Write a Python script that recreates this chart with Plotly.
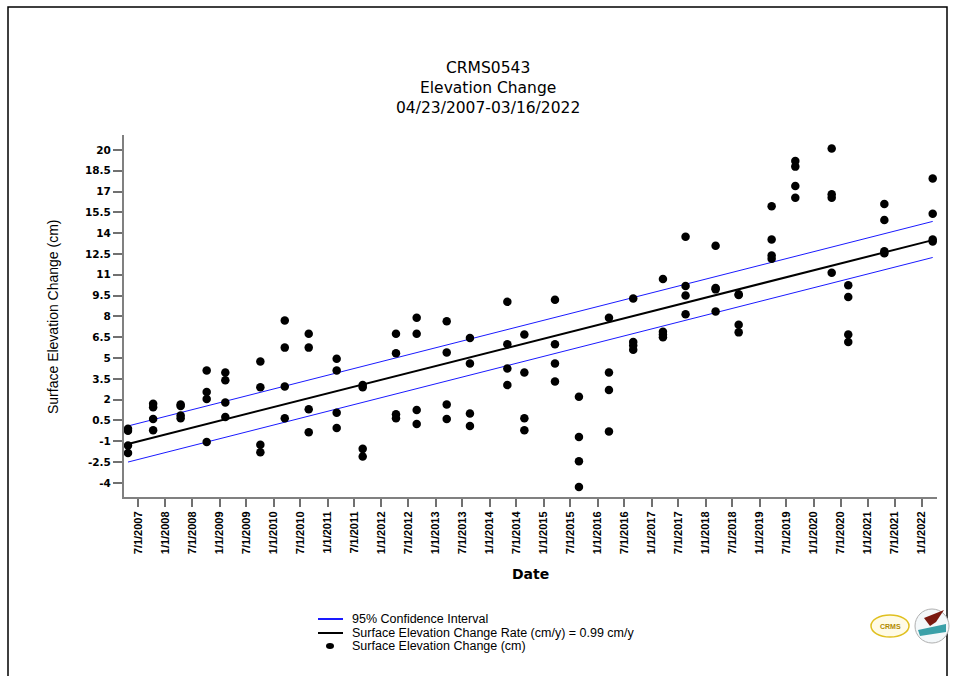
import plotly.graph_objects as go

# ---------------- data ----------------
survey_dates = [
    "2007-04-23", "2007-10-10", "2008-04-13", "2008-10-06", "2009-02-09",
    "2009-10-04", "2010-03-18", "2010-08-27", "2011-03-04", "2011-08-27",
    "2012-04-08", "2012-08-26", "2013-03-17", "2013-08-21", "2014-05-01",
    "2014-08-24", "2015-03-19", "2015-08-28", "2016-03-18", "2016-08-29",
    "2017-03-18", "2017-08-18", "2018-03-09", "2018-08-12", "2019-03-23",
    "2019-08-30", "2020-05-02", "2020-08-22", "2021-04-23", "2022-03-16",
]
pin_1 = [-0.1, 1.7, 1.65, 4.1, 3.95, 4.75, 7.7, 6.75, 4.95, 3.05,
         6.75, 7.9, 7.65, 6.45, 9.05, 6.7, 9.2, 2.2, 7.9, 9.3,
         10.7, 13.75, 13.1, 9.6, 15.95, 19.2, 20.1, 10.25, 16.1, 17.95]
pin_2 = [-0.25, 1.45, 1.55, 2.55, 3.4, 2.9, 5.75, 5.75, 4.1, 2.9,
         5.35, 6.75, 5.4, 4.6, 6.0, 3.95, 6.0, -0.7, 3.95, 6.15,
         6.9, 10.2, 10.05, 9.55, 13.55, 18.8, 16.8, 9.4, 14.95, 15.4]
pin_3 = [-1.3, 0.6, 0.85, 2.05, 1.8, -1.25, 2.95, 1.3, 1.05, -1.55,
         0.95, 1.25, 1.65, 1.0, 4.25, 0.65, 4.6, -2.45, 2.7, 5.9,
         6.7, 9.5, 9.95, 7.4, 12.4, 17.4, 16.55, 6.7, 12.7, 13.55]
pin_4 = [-1.85, -0.2, 0.65, -1.05, 0.75, -1.8, 0.65, -0.35, -0.05, -2.1,
         0.65, 0.25, 0.6, 0.1, 3.05, -0.2, 3.3, -4.3, -0.3, 5.6,
         6.5, 8.15, 8.35, 6.85, 12.15, 16.55, 11.15, 6.15, 12.55, 13.4]

trend_dates = ["2007-04-23", "2022-03-16"]
trend_values = [-1.2, 13.5]        # 0.99 cm/y
ci_upper = [0.1, 14.85]
ci_lower = [-2.5, 12.25]

x_tick_dates = [
    "2007-07-01", "2008-01-01", "2008-07-01", "2009-01-01", "2009-07-01",
    "2010-01-01", "2010-07-01", "2011-01-01", "2011-07-01", "2012-01-01",
    "2012-07-01", "2013-01-01", "2013-07-01", "2014-01-01", "2014-07-01",
    "2015-01-01", "2015-07-01", "2016-01-01", "2016-07-01", "2017-01-01",
    "2017-07-01", "2018-01-01", "2018-07-01", "2019-01-01", "2019-07-01",
    "2020-01-01", "2020-07-01", "2021-01-01", "2021-07-01", "2022-01-01",
]
x_tick_labels = [
    "7/1/2007", "1/1/2008", "7/1/2008", "1/1/2009", "7/1/2009",
    "1/1/2010", "7/1/2010", "1/1/2011", "7/1/2011", "1/1/2012",
    "7/1/2012", "1/1/2013", "7/1/2013", "1/1/2014", "7/1/2014",
    "1/1/2015", "7/1/2015", "1/1/2016", "7/1/2016", "1/1/2017",
    "7/1/2017", "1/1/2018", "7/1/2018", "1/1/2019", "7/1/2019",
    "1/1/2020", "7/1/2020", "1/1/2021", "7/1/2021", "1/1/2022",
]
y_tick_values = [-4, -2.5, -1, 0.5, 2, 3.5, 5, 6.5, 8, 9.5, 11, 12.5, 14, 15.5, 17, 18.5, 20]
y_tick_labels = ["-4", "-2.5", "-1", "0.5", "2", "3.5", "5", "6.5", "8", "9.5",
                 "11", "12.5", "14", "15.5", "17", "18.5", "20"]

title_lines = ["CRMS0543", "Elevation Change", "04/23/2007-03/16/2022"]
legend_labels = ["95% Confidence Interval",
                 "Surface Elevation Change Rate (cm/y) = 0.99 cm/y",
                 "Surface Elevation Change (cm)"]

# ---------------- layout geometry ----------------
W, H = 956, 676
L, R, T, B = 124, 937, 135, 497   # plot area in pixels


def px(x):
    return (x - L) / (R - L)


def py(y):
    return (B - y) / (B - T)


obs_dates = []
obs_values = []
for pins in (pin_1, pin_2, pin_3, pin_4):
    obs_dates += survey_dates
    obs_values += pins

fig = go.Figure()
fig.add_trace(go.Scatter(x=trend_dates, y=ci_upper, mode="lines",
                         line=dict(color="#1a1aff", width=1), showlegend=False,
                         name=legend_labels[0]))
fig.add_trace(go.Scatter(x=trend_dates, y=ci_lower, mode="lines",
                         line=dict(color="#1a1aff", width=1), showlegend=False,
                         name=legend_labels[0]))
fig.add_trace(go.Scatter(x=trend_dates, y=trend_values, mode="lines",
                         line=dict(color="black", width=2), showlegend=False,
                         name=legend_labels[1]))
fig.add_trace(go.Scatter(x=obs_dates, y=obs_values, mode="markers",
                         marker=dict(color="black", size=8.5, line=dict(width=0)),
                         showlegend=False, name=legend_labels[2]))

annotations = []
annotations.append(dict(text="<br>".join(title_lines), x=px(488), y=py(88),
                        xref="paper", yref="paper", align="center",
                        xanchor="center", yanchor="middle", showarrow=False,
                        font=dict(family="DejaVu Sans", size=15.5, color="black")))
annotations.append(dict(text="Surface Elevation Change (cm)", x=px(53), y=py(317),
                        xref="paper", yref="paper", textangle=-90, showarrow=False,
                        xanchor="center", yanchor="middle",
                        font=dict(family="Liberation Sans, Arial", size=14, color="black")))
annotations.append(dict(text="Date", x=px(530), y=py(574), xref="paper", yref="paper",
                        showarrow=False, xanchor="center", yanchor="middle",
                        font=dict(family="DejaVu Sans", size=14, color="black", weight="bold")))

leg_rows = [619, 633, 646]
for txt, yy in zip(legend_labels, leg_rows):
    annotations.append(dict(text=txt, x=px(350), y=py(yy), xref="paper", yref="paper",
                            showarrow=False, xanchor="left", yanchor="middle",
                            font=dict(family="Liberation Sans, Arial", size=12.5, color="black")))
annotations.append(dict(text="<b>CRMS</b>", x=px(890), y=py(626), xref="paper", yref="paper",
                        showarrow=False, xanchor="center", yanchor="middle",
                        font=dict(family="Liberation Sans, Arial", size=7, color="#b08a00")))

shapes = [
    # outer frame
    dict(type="rect", xref="paper", yref="paper", x0=px(8), x1=px(947), y0=py(7), y1=py(700),
         line=dict(color="black", width=1.5), fillcolor="rgba(0,0,0,0)", layer="below"),
    # legend samples
    dict(type="line", xref="paper", yref="paper", x0=px(318), x1=px(343), y0=py(619), y1=py(619),
         line=dict(color="#1a1aff", width=2)),
    dict(type="line", xref="paper", yref="paper", x0=px(318), x1=px(343), y0=py(633), y1=py(633),
         line=dict(color="black", width=2)),
    dict(type="circle", xref="paper", yref="paper", x0=px(326), x1=px(334), y0=py(643), y1=py(649),
         line=dict(color="black", width=0), fillcolor="black"),
    # logos (approximate)
    dict(type="circle", xref="paper", yref="paper", x0=px(871), x1=px(909), y0=py(615), y1=py(637),
         line=dict(color="#e0c020", width=1.5), fillcolor="#fffbe6"),
    dict(type="circle", xref="paper", yref="paper", x0=px(915), x1=px(949), y0=py(609), y1=py(643),
         line=dict(color="#b0b0b0", width=1), fillcolor="#f4f8fa"),
    dict(type="path", xref="paper", yref="paper",
         path=f"M {px(918)},{py(630)} L {px(946)},{py(624)} L {px(946)},{py(632)} L {px(920)},{py(636)} Z",
         line=dict(width=0), fillcolor="#3aa0a8"),
    dict(type="path", xref="paper", yref="paper",
         path=f"M {px(924)},{py(618)} L {px(944)},{py(610)} L {px(936)},{py(622)} L {px(930)},{py(626)} Z",
         line=dict(width=0), fillcolor="#7a1a10"),
]

fig.update_layout(
    width=W, height=H, autosize=False,
    margin=dict(l=L, r=W - R, t=T, b=H - B, pad=0),
    paper_bgcolor="white", plot_bgcolor="white",
    showlegend=False,
    annotations=annotations,
    shapes=shapes,
    xaxis=dict(
        type="date", range=["2007-03-27", "2022-04-14"],
        tickmode="array", tickvals=x_tick_dates, ticktext=x_tick_labels,
        tickangle=-90, ticks="outside", ticklen=8, tickwidth=1.5, tickcolor="#707070",
        showline=True, linecolor="#808080", linewidth=2, showgrid=False, zeroline=False,
        automargin=False,
        tickfont=dict(family="Liberation Sans, Arial", size=11, color="black", weight="bold"),
    ),
    yaxis=dict(
        range=[-5.02, 21.08],
        tickmode="array", tickvals=y_tick_values, ticktext=y_tick_labels,
        ticks="outside", ticklen=9, tickwidth=1.5, tickcolor="#707070",
        showline=True, linecolor="#808080", linewidth=2, showgrid=False, zeroline=False,
        automargin=False,
        tickfont=dict(family="DejaVu Sans", size=10.5, color="black", weight="bold"),
    ),
)

fig.write_html("out.html", config={"displayModeBar": False},
               post_script="document.body.style.margin='0';document.body.style.overflow='hidden';")
